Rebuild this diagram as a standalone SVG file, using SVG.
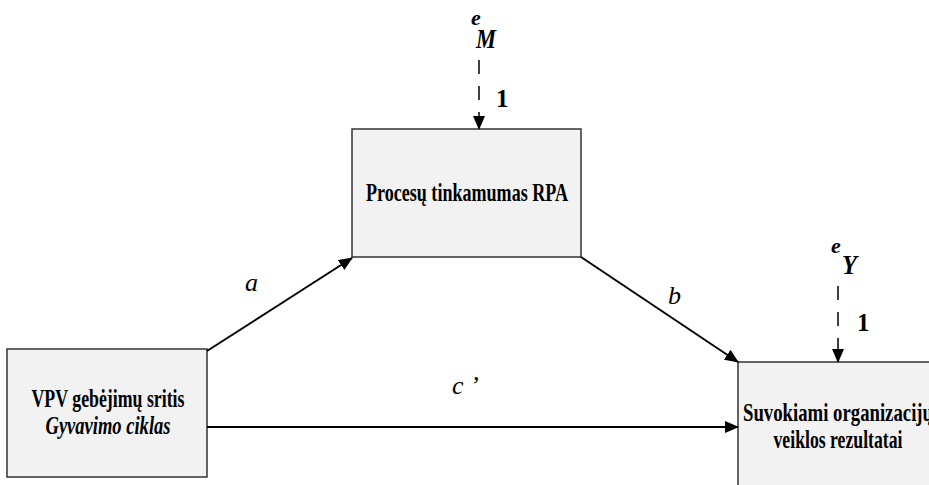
<svg xmlns="http://www.w3.org/2000/svg" width="929" height="485" viewBox="0 0 929 485">
<style>
.box{fill:#f2f2f2;stroke:#333;stroke-width:1.5}
.t{font-family:"Liberation Serif","Times New Roman",serif;font-weight:bold;font-size:26px;fill:#000}
.lab{font-family:"Liberation Serif","Times New Roman",serif;font-style:italic;font-size:26px;fill:#000}
.err{font-family:"Liberation Serif","Times New Roman",serif;font-style:italic;font-weight:bold;fill:#000}
.one{font-family:"Liberation Serif","Times New Roman",serif;font-weight:bold;font-size:25px;fill:#000}
.edge{stroke:#000;stroke-width:2;fill:none}
.dash{stroke:#000;stroke-width:1.5;fill:none;stroke-dasharray:14 12}
</style>
<defs>
<marker id="ah" markerWidth="14" markerHeight="12" refX="13" refY="6" orient="auto" markerUnits="userSpaceOnUse">
<path d="M0,0 L14,6 L0,12 Z" fill="#000"/>
</marker>
</defs>
<g id="nodeM">
<rect class="box" x="352" y="129" width="229" height="128"/>
<text class="t" x="467" y="201" text-anchor="middle" textLength="202" lengthAdjust="spacingAndGlyphs">Procesų tinkamumas RPA</text>
</g>
<g id="nodeX">
<rect class="box" x="7" y="349" width="200" height="128"/>
<text class="t" x="108" y="407" text-anchor="middle" textLength="153" lengthAdjust="spacingAndGlyphs">VPV gebėjimų sritis</text>
<text class="t" x="108" y="434" text-anchor="middle" font-style="italic" font-weight="normal" textLength="125" lengthAdjust="spacingAndGlyphs">Gyvavimo ciklas</text>
</g>
<g id="nodeY">
<rect class="box" x="738" y="362" width="200" height="130"/>
<text class="t" x="838" y="421" text-anchor="middle" textLength="190" lengthAdjust="spacingAndGlyphs">Suvokiami organizacijų</text>
<text class="t" x="838" y="448" text-anchor="middle" textLength="129" lengthAdjust="spacingAndGlyphs">veiklos rezultatai</text>
</g>
<g id="errM">
<text class="err" x="471" y="25" font-size="22">e</text>
<text class="err" x="476" y="48" font-size="28" textLength="20" lengthAdjust="spacingAndGlyphs">M</text>
<text class="one" x="496" y="107">1</text>
</g>
<g id="errY">
<text class="err" x="831" y="253" font-size="22">e</text>
<text class="err" x="842" y="274" font-size="28" textLength="15" lengthAdjust="spacingAndGlyphs">Y</text>
<text class="one" x="857" y="331">1</text>
</g>
<g id="connectors">
<line class="edge" x1="207" y1="351" x2="352" y2="258" marker-end="url(#ah)"/>
<line class="edge" x1="581" y1="257" x2="738" y2="362" marker-end="url(#ah)"/>
<line class="edge" x1="207" y1="427" x2="738" y2="427" marker-end="url(#ah)"/>
<line class="dash" x1="479" y1="60" x2="479" y2="129" marker-end="url(#ah)"/>
<line class="dash" x1="838" y1="286" x2="838" y2="362" marker-end="url(#ah)"/>
<text class="lab" x="245" y="291">a</text>
<text class="lab" x="668" y="304">b</text>
<text class="lab" x="452" y="394">c ’</text>
</g>
</svg>
